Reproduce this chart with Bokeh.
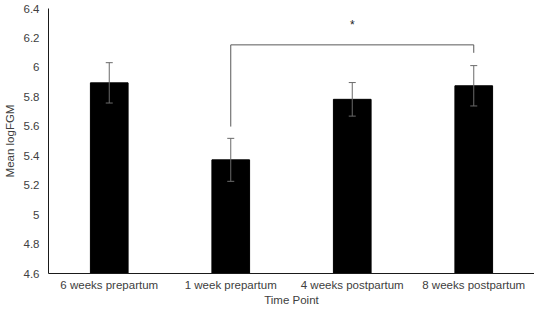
from bokeh.plotting import figure
from bokeh.models import ColumnDataSource, FixedTicker, Whisker
from bokeh.core.properties import value
from bokeh.embed import file_html
from bokeh.resources import INLINE

categories = ["6 weeks prepartum", "1 week prepartum", "4 weeks postpartum", "8 weeks postpartum"]
means = [5.895, 5.372, 5.783, 5.875]
errors = [0.137, 0.146, 0.114, 0.137]
y_ticks = [4.6, 4.8, 5.0, 5.2, 5.4, 5.6, 5.8, 6.0, 6.2, 6.4]
y_tick_labels = ["4.6", "4.8", "5", "5.2", "5.4", "5.6", "5.8", "6", "6.2", "6.4"]

# significance annotation
sig_from = "1 week prepartum"
sig_to = "8 weeks postpartum"
sig_mid = "4 weeks postpartum"
sig_top = 6.153
sig_left_bottom = 5.598
sig_right_bottom = 6.099
sig_star_y = 6.29
sig_label = "*"

FONT = "Liberation Sans"
TEXT_COLOR = "#404040"

src = ColumnDataSource(dict(
    cat=categories,
    mean=means,
    upper=[m + e for m, e in zip(means, errors)],
    lower=[m - e for m, e in zip(means, errors)],
))

p = figure(x_range=categories, y_range=(4.6, 6.4), width=534, height=308,
           output_backend="svg", toolbar_location=None,
           min_border_left=30, min_border_right=0, min_border_top=8, min_border_bottom=20)

p.vbar(x="cat", top="mean", bottom=4.6, width=0.31, source=src,
       fill_color="black", line_color="black")

w = Whisker(source=src, base="cat", upper="upper", lower="lower",
            line_color="#6a6a6a", line_width=1, level="overlay")
w.upper_head.size = 7
w.lower_head.size = 7
w.upper_head.line_color = "#6a6a6a"
w.lower_head.line_color = "#6a6a6a"
p.add_layout(w)

# bracket
p.segment(x0=[sig_from, sig_from, sig_to], y0=[sig_left_bottom, sig_top, sig_top],
          x1=[sig_from, sig_to, sig_to], y1=[sig_top, sig_top, sig_right_bottom],
          line_color="#595959", line_width=1)
p.text(x=[sig_mid], y=[sig_star_y], text=[sig_label], text_align="center",
       text_baseline="middle", text_font=value(FONT), text_font_size="12px",
       text_color="#222222")

p.xgrid.visible = False
p.ygrid.visible = False
p.outline_line_color = None

p.yaxis.ticker = FixedTicker(ticks=y_ticks)
p.yaxis.major_label_overrides = dict(zip(y_ticks, y_tick_labels))

for ax in (p.xaxis, p.yaxis):
    ax.major_tick_line_color = None
    ax.minor_tick_line_color = None
    ax.major_tick_out = 0
    ax.major_tick_in = 0
    ax.minor_tick_out = 0
    ax.minor_tick_in = 0
    ax.axis_line_color = "#1a1a1a"
    ax.axis_line_width = 1
    ax.major_label_text_font = FONT
    ax.major_label_text_font_size = "11.5px"
    ax.major_label_text_color = TEXT_COLOR
    ax.axis_label_text_font = FONT
    ax.axis_label_text_font_size = "11.5px"
    ax.axis_label_text_font_style = "normal"
    ax.axis_label_text_color = TEXT_COLOR

p.xaxis.axis_label = "Time Point"
p.yaxis.axis_label = "Mean logFGM"
p.xaxis.major_label_standoff = 5
p.xaxis.axis_label_standoff = 0
p.yaxis.major_label_standoff = 9
p.yaxis.axis_label_standoff = 5

open("out.html", "w").write(file_html(p, INLINE))
